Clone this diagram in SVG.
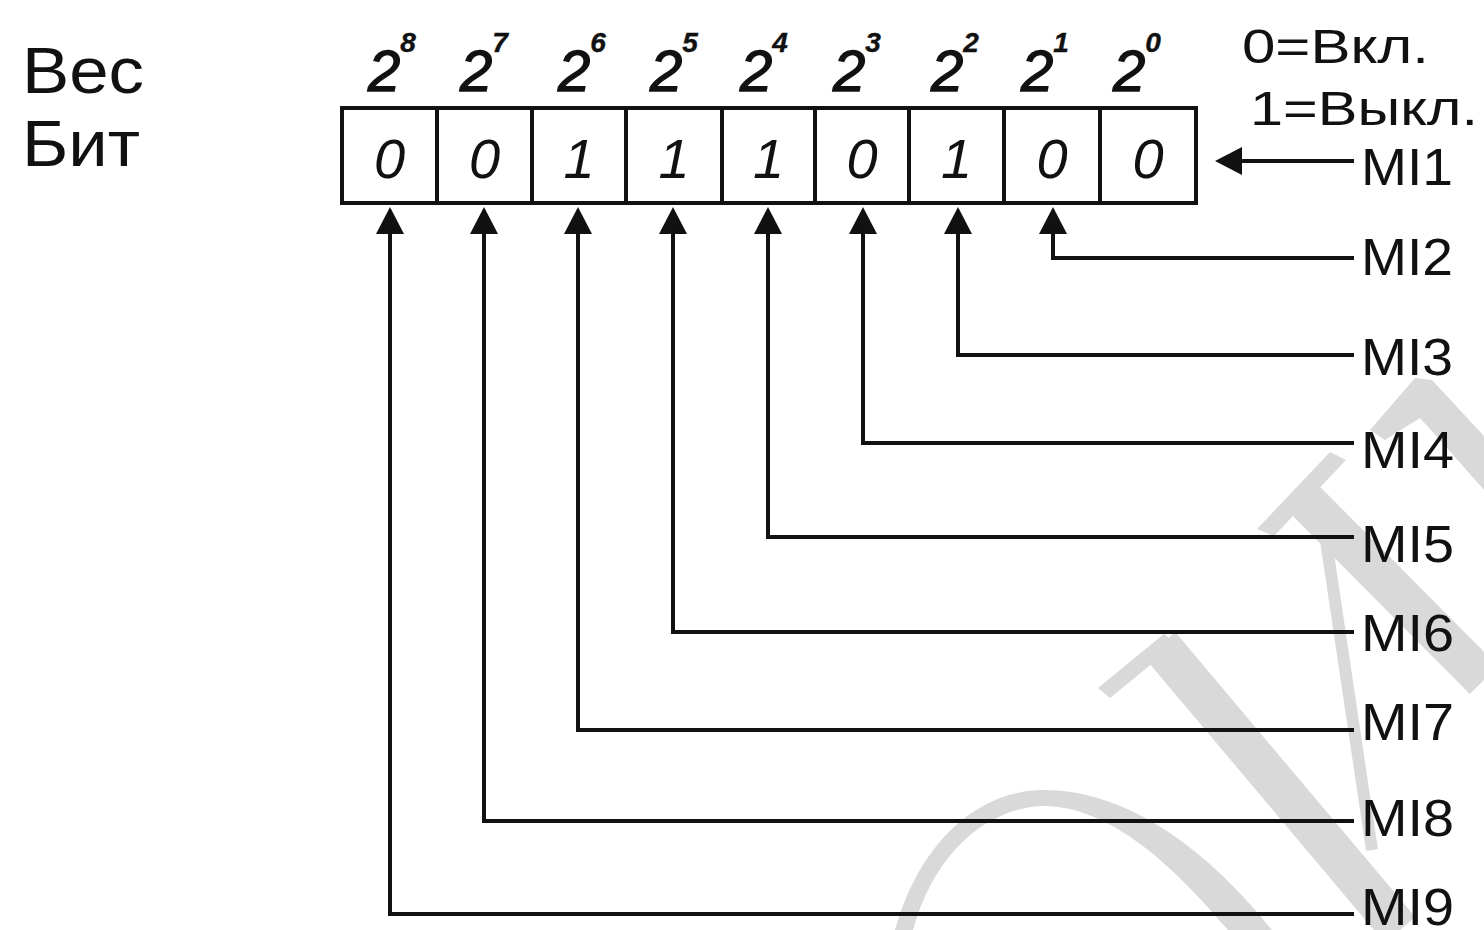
<svg xmlns="http://www.w3.org/2000/svg" width="1484" height="930" viewBox="0 0 1484 930">
<style>
.t{font-family:"Liberation Sans",Arial,sans-serif;fill:#111}
.pw{font-family:"Liberation Sans",Arial,sans-serif;fill:#111;stroke:#111;stroke-width:1.4;font-style:italic;font-size:58px}
.pw tspan{font-size:28px;font-weight:bold;stroke-width:0.4}
.bit{font-family:"Liberation Sans",Arial,sans-serif;fill:#111;font-style:italic;font-size:56px;text-anchor:middle}
.mi{font-family:"Liberation Sans",Arial,sans-serif;fill:#111;font-size:52px}
.cell{fill:none;stroke:#111;stroke-width:4}
.conn{fill:none;stroke:#111;stroke-width:4}
.wm{fill:#d9d9d9}
.wms{fill:none;stroke:#d9d9d9}
</style>
<defs>
<marker id="ah" markerUnits="userSpaceOnUse" markerWidth="28" markerHeight="28" viewBox="0 0 28 28" refX="1" refY="14" orient="auto">
<path d="M0,0 L27,14 L0,28 z" fill="#111"/>
</marker>
</defs>
<rect x="0" y="0" width="1484" height="930" fill="#fff"/>
<g id="watermark">
<polygon class="wm" points="1370,430 1415,378 1432,380 1484,436 1484,490 1440,440 1420,418 1385,440"/>
<polygon class="wm" points="1330,452 1346,460 1274,536 1257,529"/>
<line class="wms" x1="1305" y1="500" x2="1484" y2="680" stroke-width="40"/>
<line class="wms" x1="1320" y1="500" x2="1372" y2="850" stroke-width="12"/>
<polygon class="wm" points="1164,634 1176,644 1110,698 1098,688"/>
<line class="wms" x1="1160" y1="645" x2="1400" y2="930" stroke-width="40"/>
<path class="wm" d="M895,930 C920,840 980,790 1044,790 C1120,790 1200,840 1272,930 L1228,930 C1170,862 1110,808 1046,806 C990,806 935,850 913,930 Z"/>
</g>
<g id="label-ves"><text class="t" x="22" y="93" font-size="64" textLength="122" lengthAdjust="spacingAndGlyphs">Вес</text></g>
<g id="label-bit"><text class="t" x="22" y="166" font-size="64" textLength="118" lengthAdjust="spacingAndGlyphs">Бит</text></g>
<g id="legend">
<text class="t" x="1242" y="63" font-size="49" textLength="187" lengthAdjust="spacingAndGlyphs">0=Вкл.</text>
<text class="t" x="1250" y="125" font-size="49" textLength="228" lengthAdjust="spacingAndGlyphs">1=Выкл.</text>
</g>
<g id="weights">
<text class="pw" x="368" y="91">2<tspan dy="-39">8</tspan></text>
<text class="pw" x="460" y="91">2<tspan dy="-39">7</tspan></text>
<text class="pw" x="558" y="91">2<tspan dy="-39">6</tspan></text>
<text class="pw" x="650" y="91">2<tspan dy="-39">5</tspan></text>
<text class="pw" x="740" y="91">2<tspan dy="-39">4</tspan></text>
<text class="pw" x="833" y="91">2<tspan dy="-39">3</tspan></text>
<text class="pw" x="931" y="91">2<tspan dy="-39">2</tspan></text>
<text class="pw" x="1021" y="91">2<tspan dy="-39">1</tspan></text>
<text class="pw" x="1113" y="91">2<tspan dy="-39">0</tspan></text>
</g>
<g id="register">
<g id="cell-8"><rect class="cell" x="342" y="108" width="95" height="95"/><text class="bit" x="389.5" y="178">0</text></g>
<g id="cell-7"><rect class="cell" x="437" y="108" width="95" height="95"/><text class="bit" x="484.5" y="178">0</text></g>
<g id="cell-6"><rect class="cell" x="532" y="108" width="94" height="95"/><text class="bit" x="579" y="178">1</text></g>
<g id="cell-5"><rect class="cell" x="626" y="108" width="96" height="95"/><text class="bit" x="674" y="178">1</text></g>
<g id="cell-4"><rect class="cell" x="722" y="108" width="93" height="95"/><text class="bit" x="768.5" y="178">1</text></g>
<g id="cell-3"><rect class="cell" x="815" y="108" width="94" height="95"/><text class="bit" x="862" y="178">0</text></g>
<g id="cell-2"><rect class="cell" x="909" y="108" width="95" height="95"/><text class="bit" x="956.5" y="178">1</text></g>
<g id="cell-1"><rect class="cell" x="1004" y="108" width="96" height="95"/><text class="bit" x="1052" y="178">0</text></g>
<g id="cell-0"><rect class="cell" x="1100" y="108" width="96" height="95"/><text class="bit" x="1148" y="178">0</text></g>
</g>
<g id="inputs">
<g id="MI1"><text class="mi" x="1361" y="185" textLength="92" lengthAdjust="spacingAndGlyphs">MI1</text></g>
<g id="MI2"><text class="mi" x="1361" y="275" textLength="92" lengthAdjust="spacingAndGlyphs">MI2</text></g>
<g id="MI3"><text class="mi" x="1361" y="375" textLength="92" lengthAdjust="spacingAndGlyphs">MI3</text></g>
<g id="MI4"><text class="mi" x="1361" y="468" textLength="93" lengthAdjust="spacingAndGlyphs">MI4</text></g>
<g id="MI5"><text class="mi" x="1361" y="562" textLength="93" lengthAdjust="spacingAndGlyphs">MI5</text></g>
<g id="MI6"><text class="mi" x="1361" y="651" textLength="93" lengthAdjust="spacingAndGlyphs">MI6</text></g>
<g id="MI7"><text class="mi" x="1361" y="740" textLength="93" lengthAdjust="spacingAndGlyphs">MI7</text></g>
<g id="MI8"><text class="mi" x="1361" y="836" textLength="93" lengthAdjust="spacingAndGlyphs">MI8</text></g>
<g id="MI9"><text class="mi" x="1361" y="925" textLength="93" lengthAdjust="spacingAndGlyphs">MI9</text></g>
</g>
<g id="connectors">
<path class="conn" d="M1354,161 H1241" marker-end="url(#ah)"/>
<path class="conn" d="M1354,258 H1053 V233" marker-end="url(#ah)"/>
<path class="conn" d="M1354,355 H958 V233" marker-end="url(#ah)"/>
<path class="conn" d="M1354,443 H863 V233" marker-end="url(#ah)"/>
<path class="conn" d="M1354,537 H768 V233" marker-end="url(#ah)"/>
<path class="conn" d="M1354,632 H673 V233" marker-end="url(#ah)"/>
<path class="conn" d="M1354,730 H578 V233" marker-end="url(#ah)"/>
<path class="conn" d="M1354,821 H484 V233" marker-end="url(#ah)"/>
<path class="conn" d="M1354,914 H390 V233" marker-end="url(#ah)"/>
</g>
</svg>
